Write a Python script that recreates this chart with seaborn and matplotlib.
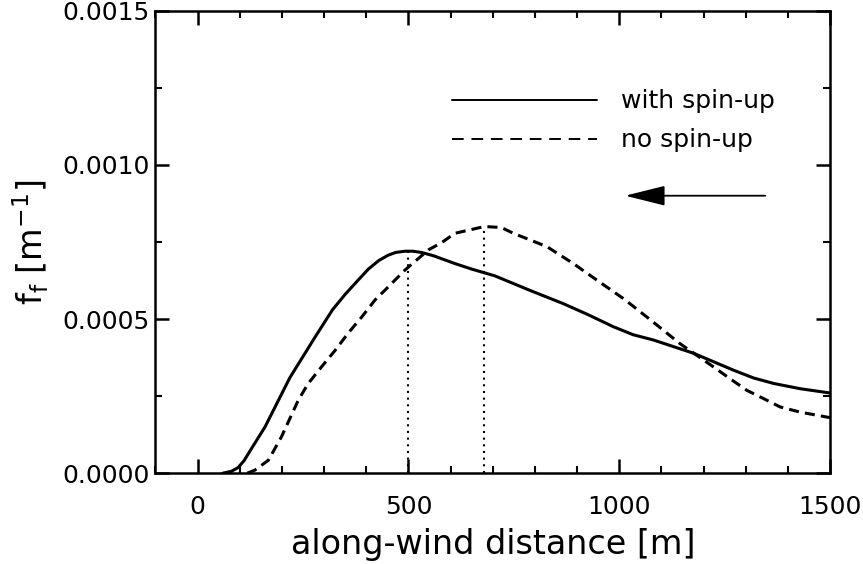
import numpy as np
import pandas as pd
import matplotlib
matplotlib.use("Agg")
import matplotlib.pyplot as plt
import seaborn as sns
from matplotlib.lines import Line2D
from matplotlib.ticker import MultipleLocator, FormatStrFormatter

# values
spin_x = [60, 80, 96, 110, 128, 160, 219, 278, 320, 350, 380, 405, 430,
          452, 470, 492, 510, 531, 560, 610, 650, 705, 788, 867, 923, 986,
          1033, 1081, 1176, 1271, 1318, 1366, 1429, 1500]
spin_f = [0.0, 0.000006, 0.000018, 0.00004, 0.00008, 0.00015, 0.00031,
          0.00044, 0.00053, 0.00058, 0.000625, 0.000662, 0.00069, 0.000707,
          0.000716, 0.00072, 0.00072, 0.000716, 0.000705, 0.00068, 0.000662,
          0.00064, 0.000593, 0.00055, 0.000516, 0.000475, 0.000449,
          0.000432, 0.000389, 0.000334, 0.000309, 0.000291, 0.000274, 0.00026]
nospin_x = [118, 136, 168, 199, 239, 262, 294, 326, 357, 389, 421, 452,
            492, 547, 579, 610, 642, 680, 720, 749, 828, 891, 947, 1010,
            1065, 1144, 1223, 1263, 1302, 1342, 1381, 1429, 1500]
nospin_f = [0.0, 0.00001, 0.000042, 0.000118, 0.000237, 0.00029, 0.000345,
            0.000398, 0.000454, 0.000506, 0.000562, 0.000604, 0.000659,
            0.000724, 0.000748, 0.000778, 0.000788, 0.0008, 0.000797,
            0.000778, 0.000735, 0.00068, 0.000626, 0.000566, 0.000507,
            0.00042, 0.000345, 0.000306, 0.000269, 0.000242, 0.000215,
            0.000198, 0.00018]
peak_x = [500, 680]
peak_f = [0.00072, 0.0008]
labels = ["with spin-up", "no spin-up"]
wind_from, wind_to, wind_f = 1346, 1014, 0.0009

df = pd.concat([
    pd.DataFrame({"distance": spin_x, "f": spin_f, "case": labels[0]}),
    pd.DataFrame({"distance": nospin_x, "f": nospin_f, "case": labels[1]}),
])

sns.set_theme(style="ticks")
plt.rcParams.update({
    "font.family": ["DejaVu Sans"],
    "mathtext.default": "regular",
    "text.color": "black", "axes.labelcolor": "black",
    "xtick.color": "black", "ytick.color": "black",
    "xtick.direction": "in", "ytick.direction": "in",
    "xtick.top": True, "ytick.right": True,
    "xtick.minor.visible": True, "ytick.minor.visible": True,
})

fig, ax = plt.subplots(figsize=(8.63, 5.64), dpi=100)
fig.subplots_adjust(left=0.180, right=0.962, bottom=0.161, top=0.981)

sns.lineplot(data=df, x="distance", y="f", hue="case", style="case",
             palette=["black", "black"], estimator=None,
             dashes={labels[0]: "", labels[1]: (3.3, 2)},
             lw=2.2, legend=False, ax=ax)

ax.vlines(peak_x, 0, peak_f, colors="black", linestyles=(0, (1.0, 2.2)), lw=1.5)

ax.annotate("", xy=(wind_to, wind_f), xytext=(wind_from, wind_f),
            arrowprops=dict(arrowstyle="-|>,head_length=1.0,head_width=0.25",
                            mutation_scale=25, lw=1.3, color="black",
                            shrinkA=0, shrinkB=0))

handles = [Line2D([], [], color="black", lw=1.4),
           Line2D([], [], color="black", lw=1.4, ls=(0, (6, 4)))]
ax.legend(handles, labels, loc="upper left", bbox_to_anchor=(0.44, 0.83),
          frameon=False, fontsize=18, handlelength=5.8, handletextpad=0.95,
          labelspacing=0.6, borderpad=0, borderaxespad=0)

ax.set_xlim(-100, 1500)
ax.set_ylim(0, 0.0015)
ax.set_xticks([0, 500, 1000, 1500])
ax.xaxis.set_minor_locator(MultipleLocator(100))
ax.set_yticks([0, 0.0005, 0.001, 0.0015])
ax.yaxis.set_minor_locator(MultipleLocator(0.00025))
ax.yaxis.set_major_formatter(FormatStrFormatter("%.4f"))
ax.tick_params(which="major", length=10, width=1.8, labelsize=18)
ax.tick_params(which="minor", length=5, width=1.5)
ax.tick_params(axis="x", which="major", pad=16)
ax.tick_params(axis="y", which="major", pad=4)
for sp in ax.spines.values():
    sp.set_linewidth(1.8)
    sp.set_color("black")

ax.set_xlabel("along-wind distance [m]", fontsize=24, labelpad=6)
ax.set_ylabel(r"f$_{f}$ [m$^{-1}$]", fontsize=24, labelpad=8)

fig.savefig("out.png", dpi=100)
